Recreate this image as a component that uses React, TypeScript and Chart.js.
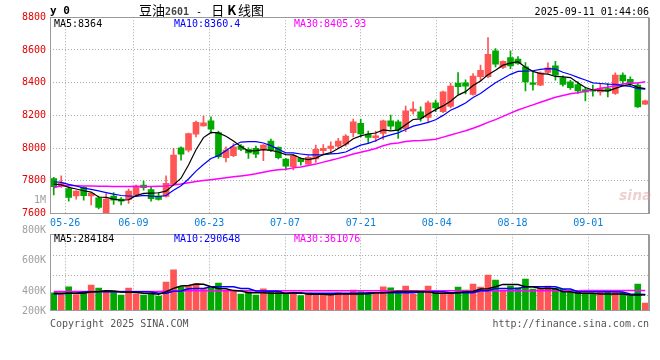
import React, { useEffect, useRef } from "react";
import { Chart, registerables } from "chart.js";

Chart.register(...registerables);

// ---------- data ----------
const DATES = [
  "2025-05-22", "2025-05-23",
  "2025-05-26", "2025-05-27", "2025-05-28", "2025-05-29", "2025-05-30",
  "2025-06-03", "2025-06-04", "2025-06-05", "2025-06-06",
  "2025-06-09", "2025-06-10", "2025-06-11", "2025-06-12", "2025-06-13",
  "2025-06-16", "2025-06-17", "2025-06-18", "2025-06-19", "2025-06-20",
  "2025-06-23", "2025-06-24", "2025-06-25", "2025-06-26", "2025-06-27",
  "2025-06-30", "2025-07-01", "2025-07-02", "2025-07-03", "2025-07-04",
  "2025-07-07", "2025-07-08", "2025-07-09", "2025-07-10", "2025-07-11",
  "2025-07-14", "2025-07-15", "2025-07-16", "2025-07-17", "2025-07-18",
  "2025-07-21", "2025-07-22", "2025-07-23", "2025-07-24", "2025-07-25",
  "2025-07-28", "2025-07-29", "2025-07-30", "2025-07-31", "2025-08-01",
  "2025-08-04", "2025-08-05", "2025-08-06", "2025-08-07", "2025-08-08",
  "2025-08-11", "2025-08-12", "2025-08-13", "2025-08-14", "2025-08-15",
  "2025-08-18", "2025-08-19", "2025-08-20", "2025-08-21", "2025-08-22",
  "2025-08-25", "2025-08-26", "2025-08-27", "2025-08-28", "2025-08-29",
  "2025-09-01", "2025-09-02", "2025-09-03", "2025-09-04", "2025-09-05",
  "2025-09-08", "2025-09-09", "2025-09-10", "2025-09-11",
];

const OPEN = [
  7814, 7765, 7753, 7708, 7760, 7707, 7696, 7600, 7707, 7688,
  7686, 7713, 7774, 7747, 7707, 7705, 7780, 8002, 7988, 8085,
  8136, 8167, 8095, 7941, 7953, 8012, 7992, 7998, 7992, 8043,
  8004, 7933, 7886, 7937, 7902, 7933, 7984, 7998, 8012, 8024,
  8094, 8151, 8086, 8063, 8090, 8167, 8161, 8118, 8226, 8222,
  8187, 8277, 8222, 8255, 8397, 8399, 8328, 8436, 8436, 8594,
  8493, 8554, 8544, 8497, 8399, 8385, 8462, 8503, 8429, 8405,
  8389, 8358, 8358, 8344, 8364, 8334, 8446, 8421, 8385, 8269,
];
const HIGH = [
  7821, 7830, 7764, 7740, 7766, 7727, 7707, 7722, 7728, 7698,
  7750, 7774, 7798, 7764, 7727, 7830, 7998, 8008, 8092, 8165,
  8195, 8191, 8104, 8008, 8028, 8022, 8002, 8012, 8022, 8055,
  8008, 7937, 7961, 7941, 7953, 8018, 8022, 8039, 8059, 8083,
  8177, 8177, 8104, 8104, 8171, 8202, 8171, 8257, 8283, 8252,
  8287, 8293, 8348, 8398, 8462, 8417, 8456, 8507, 8676, 8609,
  8533, 8594, 8560, 8523, 8466, 8466, 8521, 8531, 8442, 8415,
  8405, 8370, 8385, 8395, 8395, 8460, 8460, 8436, 8395, 8293,
];
const LOW = [
  7713, 7760, 7676, 7688, 7682, 7652, 7628, 7590, 7655, 7652,
  7662, 7707, 7743, 7675, 7682, 7700, 7774, 7926, 7977, 8069,
  8134, 8089, 7937, 7916, 7947, 7984, 7937, 7941, 7923, 7978,
  7933, 7866, 7866, 7896, 7900, 7912, 7957, 7978, 7998, 8012,
  8069, 8069, 8033, 8039, 8053, 8114, 8059, 8100, 8208, 8165,
  8161, 8222, 8216, 8245, 8330, 8331, 8324, 8411, 8430, 8497,
  8486, 8486, 8511, 8350, 8354, 8381, 8456, 8415, 8379, 8358,
  8334, 8289, 8317, 8324, 8313, 8328, 8385, 8379, 8248, 8265,
];
const CLOSE = [
  7764, 7786, 7698, 7737, 7709, 7723, 7637, 7688, 7682, 7676,
  7737, 7764, 7758, 7690, 7686, 7785, 7957, 7963, 8089, 8157,
  8154, 8116, 7947, 7988, 8008, 7992, 7971, 7963, 8018, 7988,
  7941, 7890, 7953, 7917, 7943, 7992, 7998, 8012, 8043, 8073,
  8161, 8086, 8065, 8075, 8167, 8134, 8110, 8228, 8238, 8185,
  8277, 8246, 8344, 8379, 8375, 8379, 8440, 8476, 8574, 8513,
  8531, 8503, 8517, 8405, 8389, 8460, 8491, 8446, 8389, 8370,
  8350, 8344, 8348, 8364, 8350, 8446, 8411, 8395, 8252, 8289,
];

const MA5 = [
  7780, 7776, 7760, 7750, 7739, 7731, 7701, 7699, 7688, 7681,
  7684, 7709, 7723, 7725, 7727, 7737, 7775, 7816, 7896, 7990,
  8064, 8096, 8093, 8072, 8043, 8010, 7981, 7984, 7990, 7986,
  7976, 7960, 7958, 7938, 7929, 7939, 7961, 7972, 7998, 8024,
  8057, 8075, 8086, 8092, 8111, 8105, 8110, 8143, 8175, 8179,
  8208, 8235, 8258, 8286, 8324, 8345, 8383, 8410, 8449, 8476,
  8507, 8519, 8528, 8494, 8469, 8455, 8452, 8438, 8435, 8431,
  8400, 8370, 8355, 8353, 8348, 8365, 8380, 8390, 8371, 8364,
];
const MA10 = [
  7794, 7790, 7778, 7768, 7755, 7747, 7738, 7728, 7718, 7710,
  7707, 7705, 7711, 7706, 7704, 7710, 7742, 7770, 7811, 7859,
  7900, 7936, 7954, 7984, 8016, 8037, 8039, 8039, 8031, 8015,
  7993, 7971, 7971, 7964, 7958, 7958, 7960, 7965, 7968, 7976,
  7998, 8018, 8029, 8045, 8067, 8081, 8093, 8114, 8134, 8145,
  8157, 8173, 8200, 8231, 8252, 8276, 8309, 8334, 8368, 8400,
  8426, 8451, 8469, 8471, 8473, 8481, 8486, 8483, 8464, 8450,
  8432, 8416, 8399, 8395, 8391, 8390, 8382, 8377, 8363, 8360.4,
];
const MA30 = [
  7758, 7770, 7772, 7770, 7768, 7768, 7767, 7766, 7765, 7765,
  7765, 7766, 7765, 7765, 7766, 7768, 7774, 7780, 7788, 7795,
  7802, 7807, 7812, 7818, 7824, 7830, 7836, 7843, 7852, 7861,
  7867, 7870, 7879, 7885, 7893, 7902, 7914, 7925, 7937, 7950,
  7964, 7975, 7985, 7998, 8014, 8026, 8031, 8040, 8045, 8046,
  8050, 8054, 8067, 8080, 8093, 8106, 8121, 8138, 8157, 8174,
  8194, 8214, 8233, 8249, 8264, 8280, 8296, 8311, 8322, 8332,
  8338, 8347, 8356, 8366, 8372, 8382, 8392, 8398, 8398, 8405.93,
];

const VOLUME = [
  322000, 293000, 430000, 287000, 310000, 460000, 406000, 364000, 340000, 281000,
  406000, 299000, 281000, 310000, 263000, 513000, 734000, 430000, 442000, 484000,
  400000, 400000, 496000, 358000, 370000, 299000, 340000, 281000, 394000, 346000,
  346000, 310000, 334000, 269000, 316000, 293000, 287000, 281000, 322000, 293000,
  370000, 340000, 310000, 310000, 430000, 412000, 328000, 442000, 299000, 328000,
  442000, 322000, 322000, 304000, 424000, 370000, 478000, 424000, 639000, 549000,
  370000, 442000, 412000, 567000, 388000, 400000, 442000, 400000, 382000, 340000,
  340000, 310000, 310000, 328000, 328000, 352000, 328000, 269000, 478000, 137000,
];
const VOL_MA5 = [
  311000, 311000, 311000, 311000, 315000, 340000, 345000, 358000, 355000, 335000,
  329000, 325000, 311000, 308000, 293000, 340000, 400000, 442000, 450000, 478000,
  475000, 430000, 400000, 395000, 360000, 355000, 323000, 323000, 320000, 311000,
  311000, 311000, 323000, 323000, 295000, 293000, 293000, 285000, 299000, 299000,
  299000, 299000, 305000, 323000, 323000, 330000, 346000, 346000, 346000, 340000,
  340000, 311000, 311000, 311000, 320000, 340000, 345000, 388000, 395000, 430000,
  472000, 472000, 468000, 430000, 428000, 400000, 400000, 395000, 340000, 340000,
  311000, 311000, 311000, 299000, 299000, 299000, 299000, 281000, 283000, 284184,
];
const VOL_MA10 = [
  299000, 302000, 311000, 311000, 335000, 340000, 340000, 340000, 340000, 340000,
  340000, 340000, 338000, 335000, 311000, 315000, 350000, 355000, 395000, 400000,
  400000, 428000, 430000, 430000, 428000, 400000, 398000, 353000, 353000, 350000,
  350000, 311000, 311000, 311000, 311000, 311000, 311000, 311000, 311000, 311000,
  311000, 311000, 323000, 323000, 323000, 323000, 323000, 323000, 323000, 340000,
  340000, 340000, 340000, 323000, 323000, 323000, 323000, 358000, 358000, 400000,
  400000, 400000, 400000, 430000, 430000, 430000, 430000, 428000, 388000, 388000,
  340000, 340000, 340000, 340000, 340000, 338000, 335000, 299000, 295000, 290648,
];
const VOL_MA30 = [
  343000, 343000, 343000, 343000, 343000, 343000, 343000, 343000, 343000, 343000,
  343000, 343000, 343000, 343000, 343000, 350000, 353000, 355000, 356000, 357000,
  358000, 358000, 358000, 358000, 358000, 358000, 358000, 358000, 358000, 358000,
  358000, 358000, 358000, 358000, 358000, 358000, 358000, 358000, 358000, 358000,
  358000, 356000, 356000, 356000, 356000, 356000, 356000, 356000, 356000, 356000,
  356000, 356000, 356000, 356000, 356000, 356000, 358000, 358000, 358000, 358000,
  358000, 358000, 358000, 358000, 358000, 358000, 358000, 358000, 358000, 358000,
  358000, 360000, 360000, 360000, 360000, 360000, 360000, 360000, 360000, 361076,
];

// date-axis ticks (trading-day indices) and axis settings
const TICK_IDX = [2, 11, 21, 31, 41, 51, 61, 71];
const PRICE_MIN = 7600;
const PRICE_MAX = 8800;
const PRICE_STEP = 200;
const VOL_MAX = 1370000;
const VOL_GRID = [270000, 628000, 986000];
const VOL_AXIS_LABELS = ["1M", "800K", "600K", "400K", "200K"];

// ---------- style ----------
const MONO = "'DejaVu Sans Mono', 'Liberation Mono', monospace";
const CJK = "'Noto Sans CJK SC', 'Noto Sans', sans-serif";
const UP = "#FF5555";
const DOWN = "#00A800";
const GRID = "#A8A8A8";
const FRAME = "#9A9A9A";
const PRICE_COLOR = "#E60000";
const DATE_COLOR = "#0A7FD8";
const C_MA5 = "#000000";
const C_MA10 = "#0000FF";
const C_MA30 = "#FF00FF";

const framePlugin = {
  id: "frame",
  afterDraw(chart: any) {
    const { ctx, chartArea } = chart;
    const l = Math.round(chartArea.left) + 0.5;
    const t = Math.round(chartArea.top) + 0.5;
    const r = Math.round(chartArea.right) - 0.5;
    const b = Math.round(chartArea.bottom) - 0.5;
    ctx.save();
    ctx.strokeStyle = FRAME;
    ctx.lineWidth = 1;
    ctx.strokeRect(l, t, r - l, b - t);
    ctx.beginPath();
    ctx.moveTo(r + 1, t);
    ctx.lineTo(r + 1, b + 0.5);
    ctx.stroke();
    ctx.restore();
  },
};

const lineDs = (label: string, data: number[], color: string, width: number) => ({
  type: "line" as const,
  label,
  data,
  borderColor: color,
  backgroundColor: color,
  borderWidth: width,
  pointRadius: 0,
  tension: 0,
  fill: false,
  xAxisID: "x",
  yAxisID: "y",
  order: 0,
});

// separate category axis (no offset) that carries the date grid lines and labels
const dateAxis = (showLabels: boolean, height: number) => ({
  type: "category" as const,
  labels: DATES,
  position: "bottom" as const,
  offset: false,
  afterBuildTicks: (s: any) => {
    s.ticks = TICK_IDX.map((v) => ({ value: v }));
  },
  afterFit: (s: any) => {
    s.height = height;
  },
  ticks: {
    display: showLabels,
    autoSkip: false,
    maxRotation: 0,
    minRotation: 0,
    padding: 4,
    color: DATE_COLOR,
    font: { family: MONO, size: 10 },
    callback: (v: any) => DATES[v as number].slice(5),
  },
  grid: { color: GRID, drawTicks: false, lineWidth: 1, offset: false },
  border: { display: false, dash: [1, 2] },
});

export default function App() {
  const mainRef = useRef<HTMLCanvasElement | null>(null);
  const volRef = useRef<HTMLCanvasElement | null>(null);

  useEffect(() => {
    const colors = CLOSE.map((c, i) => (c >= OPEN[i] ? UP : DOWN));

    const main = new Chart(mainRef.current as HTMLCanvasElement, {
      type: "bar",
      data: {
        labels: DATES,
        datasets: [
          lineDs("MA5", MA5, C_MA5, 1.2),
          lineDs("MA10", MA10, C_MA10, 1.2),
          lineDs("MA30", MA30, C_MA30, 1.5),
          {
            type: "bar",
            label: "body",
            data: OPEN.map((o, i) => [o, CLOSE[i]]),
            backgroundColor: colors,
            borderWidth: 0,
            barThickness: 6,
            grouped: false,
            xAxisID: "x",
            yAxisID: "y",
            order: 1,
          },
          {
            type: "bar",
            label: "wick",
            data: LOW.map((l, i) => [l, HIGH[i]]),
            backgroundColor: colors,
            borderWidth: 0,
            barThickness: 1,
            grouped: false,
            xAxisID: "x",
            yAxisID: "y",
            order: 2,
          },
        ] as any,
      },
      options: {
        responsive: false,
        animation: false,
        events: [],
        layout: { padding: { top: 17.25, right: 11, bottom: 0, left: 0 } },
        plugins: { legend: { display: false }, tooltip: { enabled: false } },
        scales: {
          x: { type: "category", display: false, offset: true, grid: { offset: false } },
          xg: dateAxis(true, 22.5),
          y: {
            type: "linear",
            position: "left",
            min: PRICE_MIN,
            max: PRICE_MAX,
            beginAtZero: false,
            afterFit: (s: any) => {
              s.width = 50;
            },
            ticks: {
              stepSize: PRICE_STEP,
              padding: 4,
              color: PRICE_COLOR,
              font: { family: MONO, size: 10 },
              callback: (v: any) => String(v),
            },
            grid: { color: GRID, drawTicks: false, lineWidth: 1 },
            border: { display: false, dash: [1, 2] },
          },
        } as any,
      },
      plugins: [framePlugin],
    });

    const vol = new Chart(volRef.current as HTMLCanvasElement, {
      type: "bar",
      data: {
        labels: DATES,
        datasets: [
          lineDs("MA5", VOL_MA5, C_MA5, 1.5),
          lineDs("MA10", VOL_MA10, C_MA10, 1.5),
          lineDs("MA30", VOL_MA30, C_MA30, 1.5),
          {
            type: "bar",
            label: "volume",
            data: VOLUME,
            backgroundColor: colors,
            borderWidth: 0,
            barThickness: 6,
            xAxisID: "x",
            yAxisID: "y",
            order: 1,
          },
        ] as any,
      },
      options: {
        responsive: false,
        animation: false,
        events: [],
        layout: { padding: { top: 4.3, right: 11, bottom: 5.3, left: 0 } },
        plugins: { legend: { display: false }, tooltip: { enabled: false } },
        scales: {
          x: { type: "category", display: false, offset: true, grid: { offset: false } },
          xg: dateAxis(false, 0),
          y: {
            type: "linear",
            position: "left",
            min: 0,
            max: VOL_MAX,
            afterBuildTicks: (s: any) => {
              s.ticks = VOL_GRID.map((v) => ({ value: v }));
            },
            afterFit: (s: any) => {
              s.width = 50;
            },
            ticks: { display: false },
            grid: { color: GRID, drawTicks: false, lineWidth: 1 },
            border: { display: false, dash: [1, 2] },
          },
        } as any,
      },
      plugins: [framePlugin],
    });

    return () => {
      main.destroy();
      vol.destroy();
    };
  }, []);

  const base: React.CSSProperties = {
    position: "absolute",
    whiteSpace: "pre",
    fontFamily: MONO,
    fontSize: 10,
    lineHeight: "12px",
  };
  const volLabelTops = [194, 224, 253.6, 284.7, 305];
  const last = MA5.length - 1;

  return (
    <div
      style={{
        position: "fixed",
        left: 0,
        top: 0,
        width: 660,
        height: 360,
        background: "#ffffff",
        overflow: "hidden",
      }}
    >
      <canvas
        ref={mainRef}
        width={660}
        height={236}
        style={{ position: "absolute", left: 0, top: 0, width: 660, height: 236 }}
      />
      <canvas
        ref={volRef}
        width={660}
        height={86}
        style={{ position: "absolute", left: 0, top: 230, width: 660, height: 86 }}
      />

      <div style={{ ...base, left: 50, top: 4, fontSize: 11, lineHeight: "13px", fontWeight: "bold" }}>y 0</div>
      <div style={{ ...base, left: 139, top: 2, fontFamily: CJK, fontSize: 13, lineHeight: "15px", color: "#000" }}>
        <span>豆油</span>
        <span style={{ fontFamily: MONO, fontSize: 10, fontWeight: "bold", color: "#444" }}>2601</span>
        <span style={{ fontFamily: MONO, fontSize: 10, margin: "0 9px 0 7px" }}>-</span>
        <span>日</span>
        <span style={{ fontWeight: "bold", margin: "0 2px 0 3px" }}>K</span>
        <span>线图</span>
      </div>
      <div style={{ ...base, right: 11, top: 5.5, color: "#000" }}>2025-09-11 01:44:06</div>

      <div style={{ ...base, left: 54, top: 18, color: C_MA5 }}>{`MA5:${MA5[last]}`}</div>
      <div style={{ ...base, left: 174, top: 18, color: C_MA10 }}>{`MA10:${MA10[last]}`}</div>
      <div style={{ ...base, left: 294, top: 18, color: C_MA30 }}>{`MA30:${MA30[last]}`}</div>

      <div style={{ ...base, left: 54, top: 232.5, color: C_MA5 }}>{`MA5:${VOL_MA5[last]}`}</div>
      <div style={{ ...base, left: 174, top: 232.5, color: C_MA10 }}>{`MA10:${VOL_MA10[last]}`}</div>
      <div style={{ ...base, left: 294, top: 232.5, color: C_MA30 }}>{`MA30:${VOL_MA30[last]}`}</div>

      {VOL_AXIS_LABELS.map((t, k) => (
        <div key={t} style={{ ...base, right: 614, top: volLabelTops[k], color: "#A0A0A0", textAlign: "right" }}>
          {t}
        </div>
      ))}

      <div
        style={{
          ...base,
          left: 619,
          top: 189,
          fontFamily: "'DejaVu Sans', sans-serif",
          fontSize: 14,
          fontStyle: "italic",
          fontWeight: "bold",
          color: "rgba(215,150,150,0.45)",
        }}
      >
        sina
      </div>

      <div style={{ ...base, left: 50, top: 318, color: "#555" }}>Copyright 2025 SINA.COM</div>
      <div style={{ ...base, right: 11, top: 318, color: "#555" }}>http://finance.sina.com.cn</div>
    </div>
  );
}
